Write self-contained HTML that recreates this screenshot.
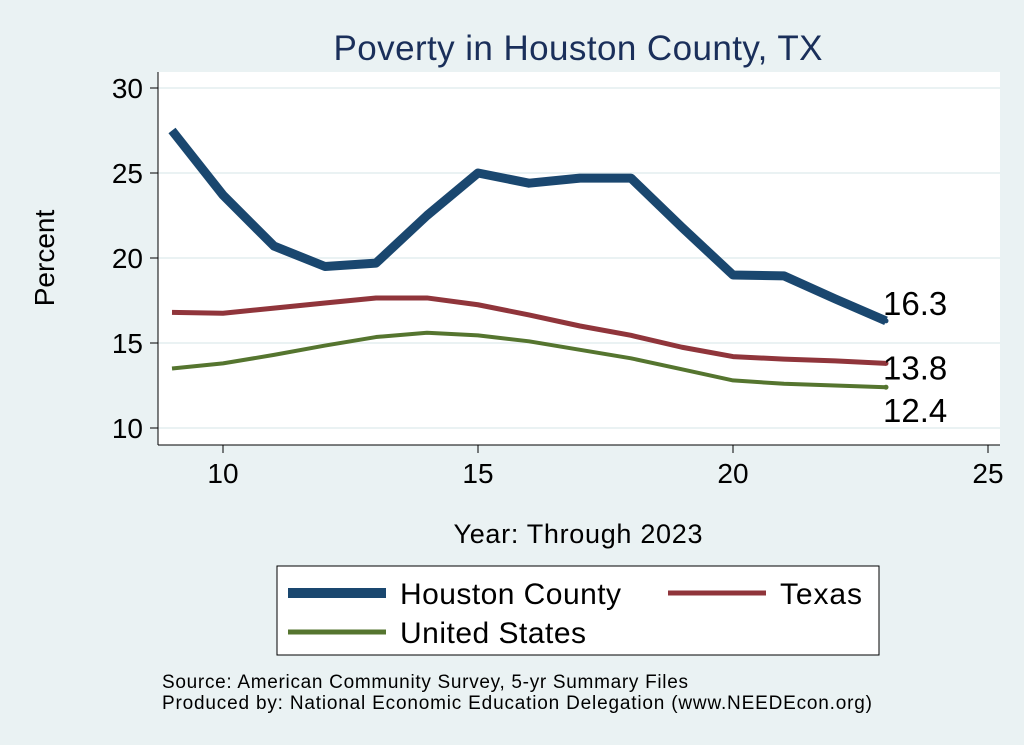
<!DOCTYPE html>
<html><head><meta charset="utf-8"><style>
body{margin:0;background:#eaf2f3;}
svg{display:block;font-family:"Liberation Sans",Arial,sans-serif;}
</style></head><body>
<svg id="chart" width="1024" height="745">
<rect x="0" y="0" width="1024" height="745" fill="#eaf2f3"/>
<text x="578" y="60" font-size="35" fill="#1a2f5a" text-anchor="middle" textLength="489">Poverty in Houston County, TX</text>
<rect x="158" y="72" width="842" height="373" fill="#fff"/>
<g id="grid"></g>
<g id="axes"></g>
<g id="series"></g>
<text x="54" y="258" font-size="28" fill="#000" text-anchor="middle" transform="rotate(-90 54 258)">Percent</text>
<text x="578" y="543" font-size="27" fill="#000" text-anchor="middle" textLength="249">Year: Through 2023</text>
<g>
<rect x="277" y="566" width="602" height="89" fill="#fff" stroke="#000" stroke-width="1"/>
<line x1="288" y1="593" x2="386" y2="593" stroke="#1a476f" stroke-width="10"/>
<text x="400" y="604" font-size="30" textLength="221">Houston County</text>
<line x1="668" y1="593" x2="766" y2="593" stroke="#90353b" stroke-width="5"/>
<text x="780" y="604" font-size="30" textLength="82">Texas</text>
<line x1="288" y1="632" x2="386" y2="632" stroke="#55752f" stroke-width="5"/>
<text x="400" y="643" font-size="30" textLength="186">United States</text>
</g>
<text x="162" y="688" font-size="19" textLength="526">Source: American Community Survey, 5-yr Summary Files</text>
<text x="162" y="709" font-size="19" textLength="710">Produced by: National Economic Education Delegation (www.NEEDEcon.org)</text>
</svg>
<script>
const years=[9,10,11,12,13,14,15,16,17,18,19,20,21,22,23];
const houston=[27.5,23.7,20.7,19.5,19.7,22.5,25.0,24.4,24.7,24.7,21.8,19.0,18.95,17.6,16.3];
const texas=[16.8,16.75,17.05,17.35,17.65,17.65,17.25,16.65,16.0,15.45,14.75,14.2,14.05,13.95,13.8];
const us=[13.5,13.8,14.3,14.85,15.35,15.6,15.45,15.1,14.6,14.1,13.45,12.8,12.6,12.5,12.4];
const yTicks=[10,15,20,25,30];
const xTicks=[10,15,20,25];
const NS="http://www.w3.org/2000/svg";
const xs=v=>223+(v-10)*51;
const ys=v=>428-(v-10)*17;
function mk(tag,attrs,parent){const e=document.createElementNS(NS,tag);for(const k in attrs)e.setAttribute(k,attrs[k]);parent.appendChild(e);return e;}
const grid=document.getElementById('grid'),axes=document.getElementById('axes'),ser=document.getElementById('series');
mk('line',{x1:158,y1:445,x2:1000,y2:445,stroke:'#000','stroke-width':1},axes);
mk('line',{x1:158,y1:72,x2:158,y2:445,stroke:'#000','stroke-width':1},axes);
yTicks.forEach(t=>{
 const g=mk('line',{x1:158,x2:1000,y1:ys(t),y2:ys(t),stroke:'#eaf2f3','stroke-width':2},grid);
 
 
 mk('line',{x1:150,x2:158,y1:ys(t),y2:ys(t),stroke:'#000'},axes);
 const l=mk('text',{x:143,y:ys(t)+10,'font-size':28,'text-anchor':'end'},axes);l.textContent=t;
 
 
});
xTicks.forEach(t=>{
 mk('line',{x1:xs(t),x2:xs(t),y1:445,y2:453,stroke:'#000'},axes);
 const l=mk('text',{x:xs(t),y:483,'font-size':28,'text-anchor':'middle'},axes);l.textContent=t;
 
 
});
function line(vals,color,w,name){
 const p=mk('polyline',{points:years.map((y,i)=>xs(y)+','+ys(vals[i])).join(' '),fill:'none',stroke:color,'stroke-width':w,'stroke-linejoin':'round'},ser);
 
 
 const last=vals.length-1;
 mk('circle',{cx:xs(years[last]),cy:ys(vals[last]),r:2.5,fill:color},ser);
}
line(houston,'#1a476f',9,'line-houston-county');
line(texas,'#90353b',5,'line-texas');
line(us,'#55752f',4,'line-united-states');
[[houston,-6,'label-houston'],[texas,16,'label-texas'],[us,35,'label-us']].forEach(([v,dy,n])=>{
 const last=v.length-1;
 const t=mk('text',{x:xs(years[last])-3,y:ys(v[last])+dy,'font-size':33},ser);
 t.textContent=v[last].toFixed(1);
 
 
});
</script>
</body></html>
